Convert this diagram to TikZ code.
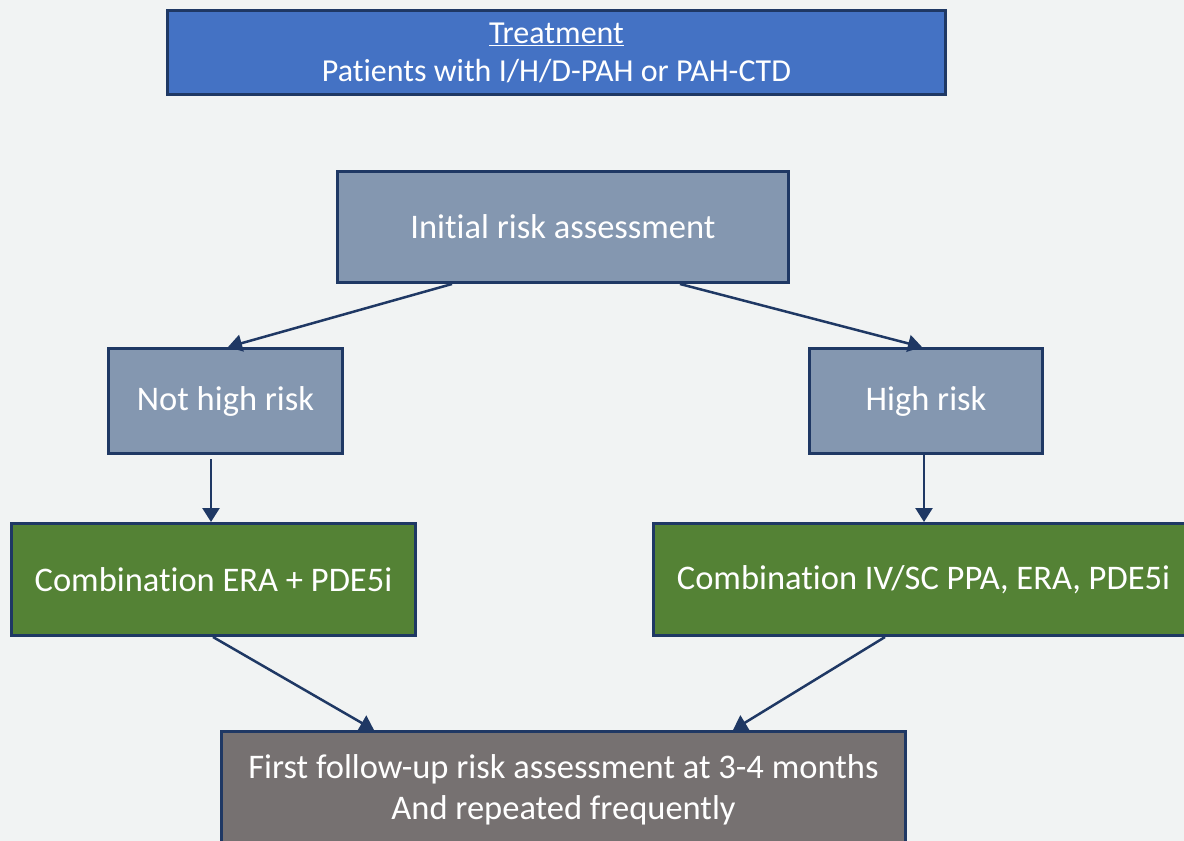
\documentclass[tikz,border=0pt]{standalone}
\usepackage{fontspec}
\setmainfont[Ligatures=NoCommon]{Carlito}
\usetikzlibrary{arrows.meta,calc}
\definecolor{bg}{HTML}{F1F3F3}
\definecolor{navy}{HTML}{1F3864}
\definecolor{topblue}{HTML}{4472C4}
\definecolor{greyblue}{HTML}{8497B0}
\definecolor{leaf}{HTML}{548235}
\definecolor{taupe}{HTML}{767171}
\begin{document}
\begin{tikzpicture}[x=1pt,y=-1pt,
  box/.style={draw=navy,line width=3pt,text=white,align=center,inner sep=0pt,anchor=north west},
  big/.style={font=\fontsize{34.5}{41}\selectfont},
  conn/.style={draw=navy,line width=2.5pt,-{Triangle[width=17pt,length=14pt]}}]
\fill[bg] (0,0) rectangle (1184,841);
\useasboundingbox (0,0) rectangle (1184,841);
\begin{scope}
\clip (0,0) rectangle (1184,841);
\node[box,fill=topblue,minimum width=778pt,minimum height=84pt,font=\fontsize{32}{38}\selectfont] (top) at (166,9) {\underline{Treatment}\\Patients with I/H/D-PAH or PAH-CTD};
\node[box,big,fill=greyblue,minimum width=451pt,minimum height=111pt] (init) at (336,170) {Initial risk assessment};
\node[box,big,fill=greyblue,minimum width=234pt,minimum height=105pt] (nhr) at (107,347) {Not high risk};
\node[box,big,fill=greyblue,minimum width=233pt,minimum height=105pt] (hr) at (808,347) {High risk};
\node[box,big,fill=leaf,minimum width=404pt,minimum height=112pt] (gl) at (10,522) {Combination ERA + PDE5i};
\node[box,big,fill=leaf,minimum width=540pt,minimum height=112pt] (gr) at (652,522) {Combination IV/SC PPA, ERA, PDE5i};
\node[box,big,fill=taupe,minimum width=684pt,minimum height=116pt] (fu) at (220,730) {First follow-up risk assessment at 3-4 months\\And repeated frequently};
\end{scope}
\coordinate (a1s) at ($(init.south west)+(116,0)$);
\coordinate (a1e) at ($(nhr.north west)+(121,0)$);
\coordinate (a2s) at ($(init.south west)+(344,0)$);
\coordinate (a2e) at ($(hr.north west)+(114,0)$);
\coordinate (a3s) at ($(nhr.south west)+(104,4)$);
\coordinate (a3e) at ($(gl.north west)+(201,0)$);
\coordinate (a4s) at ($(hr.south west)+(116,0)$);
\coordinate (a4e) at ($(gr.north west)+(272,0)$);
\coordinate (a5s) at ($(gl.south west)+(203,0)$);
\coordinate (a5e) at ($(fu.north west)+(154,0)$);
\coordinate (a6s) at ($(gr.south west)+(233,0)$);
\coordinate (a6e) at ($(fu.north west)+(513,0)$);
\draw[conn] (a1s) -- (a1e);
\draw[conn] (a2s) -- (a2e);
\draw[conn] (a3s) -- (a3e);
\draw[conn] (a4s) -- (a4e);
\draw[conn] (a5s) -- (a5e);
\draw[conn] (a6s) -- (a6e);
\end{tikzpicture}
\end{document}
